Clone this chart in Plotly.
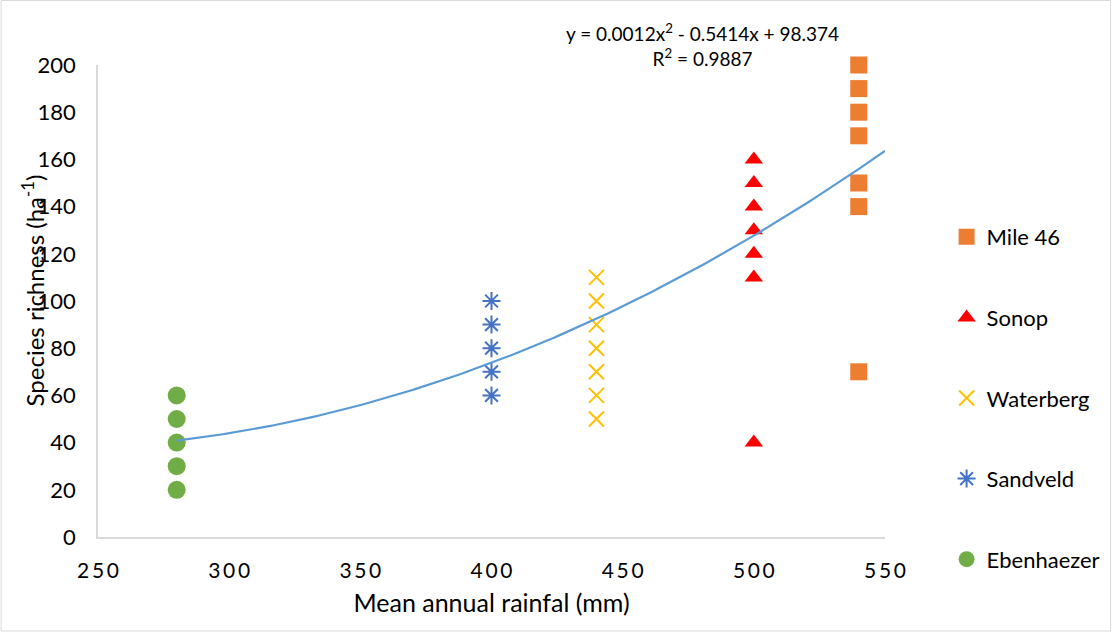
import plotly.graph_objects as go

# Species richness per site against mean annual rainfall
sites = ["Ebenhaezer", "Sandveld", "Waterberg", "Sonop", "Mile 46"]
rainfall = [280, 400, 440, 500, 540]
ebenhaezer = [20, 30, 40, 50, 60]
sandveld = [60, 70, 80, 90, 100]
waterberg = [50, 60, 70, 80, 90, 100, 110]
sonop = [40, 110, 120, 130, 140, 150, 160]
mile46 = [70, 140, 150, 170, 180, 190, 200]
richness = [ebenhaezer, sandveld, waterberg, sonop, mile46]
legend_rank = [5, 4, 3, 2, 1]

# Polynomial trendline (order 2)
coef_a, coef_b, coef_c = 0.0012, -0.5414, 98.374
r_squared = 0.9887
fit_start, fit_end = 280, 550

x_ticks = [250, 300, 350, 400, 450, 500, 550]
y_ticks = [0, 20, 40, 60, 80, 100, 120, 140, 160, 180, 200]

styles = {
    "Ebenhaezer": dict(symbol="circle", color="#70AD47", size=18, line=dict(width=0)),
    "Sandveld": dict(symbol="asterisk-open", color="#4472C4", size=15,
                     line=dict(width=2, color="#4472C4")),
    "Waterberg": dict(symbol="x-thin-open", color="#FFC000", size=15,
                      line=dict(width=2, color="#FFC000")),
    "Sonop": dict(symbol="triangle-up", color="#FF0000", size=16, line=dict(width=0)),
    "Mile 46": dict(symbol="square", color="#ED7D31", size=17, line=dict(width=0)),
}

FONT = "Lato, 'Liberation Sans', sans-serif"

fig = go.Figure()

for name, x_val, ys, rank in zip(sites, rainfall, richness, legend_rank):
    fig.add_trace(go.Scatter(
        x=[x_val] * len(ys), y=ys, mode="markers", name=name,
        legendgroup=name, legendrank=rank, marker=styles[name],
        cliponaxis=False,
    ))

n_pts = 200
fit_x = [fit_start + (fit_end - fit_start) * i / (n_pts - 1) for i in range(n_pts)]
fit_y = [coef_a * v * v + coef_b * v + coef_c for v in fit_x]
fig.add_trace(go.Scatter(
    x=fit_x, y=fit_y, mode="lines", line=dict(color="#5B9BD5", width=2.2),
    showlegend=False, hoverinfo="skip",
))

W, H = 1118, 632
L, R, T, B = 98, 228, 65, 95
pw, ph = W - L - R, H - T - B

fig.update_layout(
    width=W, height=H,
    margin=dict(l=L, r=R, t=T, b=B),
    paper_bgcolor="white", plot_bgcolor="white",
    font=dict(family=FONT, size=22, color="#000000"),
    legend=dict(
        x=(952 - L) / pw, y=(537 - 216) / ph, xanchor="left", yanchor="top",
        traceorder="grouped", tracegroupgap=49,
        font=dict(size=22), itemwidth=30,
    ),
    xaxis=dict(
        range=[250, 550], tickmode="array", tickvals=x_ticks,
        ticktext=["\u2009".join(str(t)) for t in x_ticks],
        showgrid=False, zeroline=False, showline=True,
        linecolor="#D9D9D9", linewidth=1.5, ticks="",
        tickfont=dict(size=21), ticklabelstandoff=14,
        title=dict(text="Mean annual rainfal (mm)", font=dict(size=25), standoff=14),
    ),
    yaxis=dict(
        range=[0, 200], tickmode="array", tickvals=y_ticks,
        showgrid=False, zeroline=False, showline=True,
        linecolor="#D9D9D9", linewidth=1.5, ticks="",
        tickfont=dict(size=22), ticklabelstandoff=16,
    ),
    shapes=[dict(
        type="rect", xref="paper", yref="paper",
        x0=-L / pw + 0.5 / pw, x1=(W - L - 1) / pw,
        y0=-(B - 1) / ph, y1=(H - B - 0.5) / ph,
        line=dict(color="#D9D9D9", width=1), fillcolor="rgba(0,0,0,0)", layer="below",
    )],
    annotations=[
        dict(
            x=(706 - L) / pw, y=(537 - 45) / ph, xref="paper", yref="paper",
            xanchor="center", yanchor="middle",
            text=f"y = {coef_a}x<sup>2</sup> - {abs(coef_b)}x + {coef_c}<br>R<sup>2</sup> = {r_squared}",
            showarrow=False, font=dict(size=19), align="center",
        ),
        dict(
            x=(33 - L) / pw, y=(537 - 290) / ph, xref="paper", yref="paper",
            xanchor="center", yanchor="middle", textangle=-90,
            text="Species richness (ha<sup>-1</sup>)",
            showarrow=False, font=dict(size=24),
        ),
    ],
)

fig.write_html("out.html")
